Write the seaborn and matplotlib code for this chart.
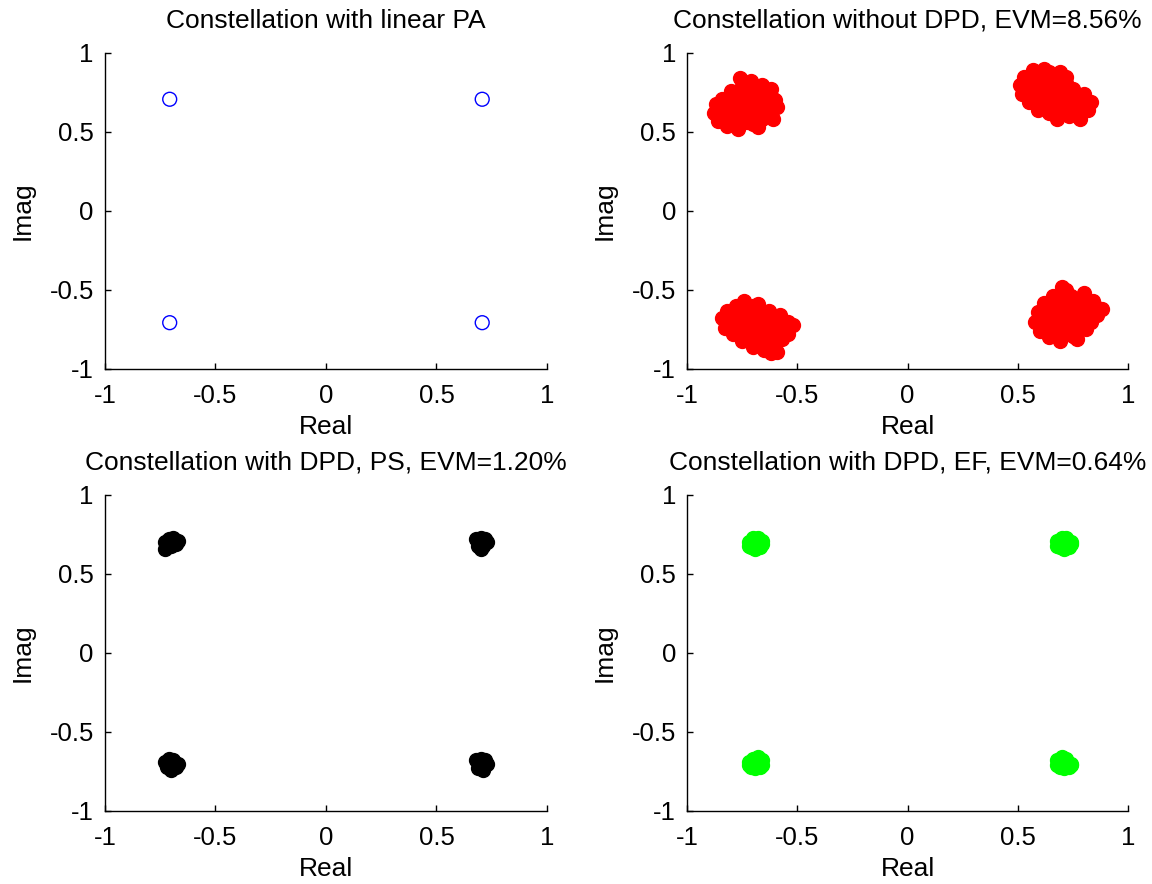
import numpy as np
import pandas as pd
import matplotlib
matplotlib.use('Agg')
import matplotlib.pyplot as plt
import seaborn as sns

# ideal constellation (linear PA)
lin_x = [-0.707, 0.707, -0.707, 0.707]
lin_y = [0.707, 0.707, -0.707, -0.707]

# PA output without DPD, four noisy clusters
red_tl_x = [-0.88, -0.87, -0.86, -0.84, -0.83, -0.82, -0.81, -0.80, -0.79, -0.78, -0.77, -0.76, -0.75, -0.74, -0.73, -0.72,
            -0.71, -0.70, -0.69, -0.68, -0.67, -0.66, -0.65, -0.64, -0.63, -0.62, -0.61, -0.60, -0.59, -0.76, -0.70, -0.66,
            -0.85, -0.82, -0.79, -0.76, -0.73, -0.70, -0.67, -0.64, -0.61, -0.83, -0.80, -0.77, -0.74, -0.71, -0.68, -0.65,
            -0.62, -0.78, -0.72, -0.66]
red_tl_y = [0.62, 0.68, 0.57, 0.71, 0.62, 0.54, 0.66, 0.76, 0.58, 0.70, 0.52, 0.63, 0.79, 0.73, 0.56, 0.67,
            0.82, 0.61, 0.74, 0.53, 0.68, 0.80, 0.60, 0.71, 0.65, 0.77, 0.58, 0.70, 0.66, 0.84, 0.55, 0.74,
            0.65, 0.60, 0.63, 0.67, 0.61, 0.66, 0.72, 0.63, 0.68, 0.56, 0.69, 0.74, 0.60, 0.76, 0.57, 0.75,
            0.73, 0.55, 0.79, 0.58]
red_tr_x = [0.51, 0.52, 0.53, 0.55, 0.56, 0.57, 0.58, 0.59, 0.60, 0.61, 0.62, 0.63, 0.64, 0.65, 0.66, 0.67, 0.68,
            0.69, 0.70, 0.71, 0.72, 0.73, 0.74, 0.75, 0.76, 0.77, 0.78, 0.79, 0.80, 0.82, 0.83, 0.60, 0.66, 0.72,
            0.53, 0.56, 0.59, 0.62, 0.65, 0.68, 0.71, 0.74, 0.77, 0.80, 0.55, 0.58, 0.61, 0.64, 0.67, 0.70, 0.73,
            0.76, 0.63, 0.69]
red_tr_y = [0.80, 0.74, 0.85, 0.69, 0.78, 0.89, 0.73, 0.64, 0.82, 0.70, 0.90, 0.76, 0.62, 0.84, 0.71, 0.78, 0.58,
            0.88, 0.67, 0.74, 0.81, 0.60, 0.70, 0.77, 0.64, 0.72, 0.58, 0.68, 0.74, 0.64, 0.69, 0.76, 0.66, 0.85,
            0.77, 0.82, 0.77, 0.79, 0.74, 0.83, 0.70, 0.66, 0.68, 0.70, 0.73, 0.86, 0.66, 0.88, 0.62, 0.76, 0.77,
            0.73, 0.71, 0.63]
red_bl_x = [-0.84, -0.83, -0.82, -0.80, -0.79, -0.78, -0.77, -0.76, -0.75, -0.74, -0.73, -0.72, -0.71, -0.70, -0.69, -0.68,
            -0.67, -0.66, -0.65, -0.64, -0.63, -0.62, -0.61, -0.60, -0.59, -0.58, -0.57, -0.56, -0.54, -0.52, -0.74, -0.68, -0.62,
            -0.81, -0.78, -0.75, -0.72, -0.69, -0.66, -0.63, -0.60, -0.57, -0.54, -0.80, -0.77, -0.74, -0.71, -0.68, -0.65,
            -0.62, -0.59, -0.70, -0.64]
red_bl_y = [-0.68, -0.74, -0.63, -0.70, -0.78, -0.60, -0.66, -0.74, -0.82, -0.57, -0.70, -0.78, -0.64, -0.86, -0.72, -0.59,
            -0.80, -0.68, -0.88, -0.75, -0.63, -0.83, -0.70, -0.77, -0.89, -0.66, -0.81, -0.74, -0.78, -0.72, -0.62, -0.64, -0.90,
            -0.66, -0.71, -0.69, -0.66, -0.79, -0.73, -0.79, -0.71, -0.74, -0.70, -0.74, -0.62, -0.77, -0.73, -0.84, -0.65,
            -0.75, -0.82, -0.60, -0.86]
red_br_x = [0.58, 0.59, 0.60, 0.62, 0.63, 0.64, 0.65, 0.66, 0.67, 0.68, 0.69, 0.70, 0.71, 0.72, 0.73, 0.74,
            0.75, 0.76, 0.77, 0.78, 0.79, 0.80, 0.81, 0.82, 0.83, 0.84, 0.86, 0.88, 0.70, 0.76, 0.66,
            0.61, 0.64, 0.67, 0.70, 0.73, 0.76, 0.79, 0.82, 0.85, 0.63, 0.66, 0.69, 0.72, 0.75, 0.78, 0.81,
            0.68, 0.74, 0.80, 0.71]
red_br_y = [-0.70, -0.64, -0.76, -0.58, -0.70, -0.80, -0.64, -0.54, -0.74, -0.66, -0.82, -0.58, -0.70, -0.50, -0.77, -0.63,
            -0.55, -0.71, -0.81, -0.60, -0.68, -0.52, -0.75, -0.62, -0.70, -0.57, -0.66, -0.62, -0.48, -0.80, -0.60,
            -0.66, -0.72, -0.60, -0.66, -0.70, -0.64, -0.74, -0.66, -0.60, -0.76, -0.68, -0.55, -0.62, -0.79, -0.66, -0.57,
            -0.78, -0.54, -0.70, -0.76]

# with DPD, PS
blk_x = [-0.73, -0.71, -0.69, -0.67, -0.68, -0.70, -0.72, -0.73,
         0.68, 0.70, 0.72, 0.73, 0.71, 0.69, 0.70,
         -0.73, -0.71, -0.69, -0.67, -0.68, -0.70, -0.72,
         0.68, 0.70, 0.72, 0.73, 0.71, 0.69, 0.71]
blk_y = [0.70, 0.72, 0.73, 0.71, 0.69, 0.68, 0.68, 0.66,
         0.72, 0.73, 0.72, 0.70, 0.68, 0.68, 0.66,
         -0.69, -0.67, -0.68, -0.70, -0.72, -0.74, -0.72,
         -0.68, -0.67, -0.68, -0.70, -0.72, -0.73, -0.74]

# with DPD, EF
grn_x = [-0.72, -0.70, -0.68, -0.66, -0.71, -0.69, -0.67, -0.70, -0.68, -0.72, -0.66,
         0.68, 0.70, 0.72, 0.74, 0.69, 0.71, 0.73, 0.70, 0.72, 0.68, 0.74,
         -0.72, -0.70, -0.68, -0.66, -0.71, -0.69, -0.67, -0.70, -0.68, -0.72, -0.66,
         0.68, 0.70, 0.72, 0.74, 0.69, 0.71, 0.73, 0.70, 0.72, 0.68, 0.74]
grn_y = [0.70, 0.73, 0.73, 0.71, 0.67, 0.66, 0.67, 0.70, 0.70, 0.68, 0.69,
         0.71, 0.73, 0.73, 0.70, 0.67, 0.66, 0.67, 0.70, 0.70, 0.68, 0.69,
         -0.69, -0.67, -0.66, -0.68, -0.72, -0.73, -0.72, -0.70, -0.70, -0.71, -0.71,
         -0.68, -0.66, -0.67, -0.70, -0.72, -0.73, -0.72, -0.70, -0.70, -0.71, -0.71]

titles = ['Constellation with linear PA',
          'Constellation without DPD, EVM=8.56%',
          'Constellation with DPD, PS, EVM=1.20%',
          'Constellation with DPD, EF, EVM=0.64%']

sns.set_style('ticks')
plt.rcParams['font.family'] = ['Liberation Sans', 'DejaVu Sans']
plt.rcParams['xtick.direction'] = 'in'
plt.rcParams['ytick.direction'] = 'in'
plt.rcParams['text.color'] = 'black'
plt.rcParams['axes.labelcolor'] = 'black'
plt.rcParams['xtick.labelcolor'] = 'black'
plt.rcParams['ytick.labelcolor'] = 'black'

fig = plt.figure(figsize=(11.52, 8.84), dpi=100)
boxes = [[0.0911, 0.5826, 0.3837, 0.3575],
         [0.5964, 0.5826, 0.3828, 0.3575],
         [0.0911, 0.0826, 0.3837, 0.3575],
         [0.5964, 0.0826, 0.3828, 0.3575]]
axes = [fig.add_axes(b) for b in boxes]

df_lin = pd.DataFrame({'Real': lin_x, 'Imag': lin_y})
df_red = pd.DataFrame({'Real': red_tl_x + red_tr_x + red_bl_x + red_br_x,
                       'Imag': red_tl_y + red_tr_y + red_bl_y + red_br_y})
df_blk = pd.DataFrame({'Real': blk_x, 'Imag': blk_y})
df_grn = pd.DataFrame({'Real': grn_x, 'Imag': grn_y})

sns.scatterplot(data=df_lin, x='Real', y='Imag', ax=axes[0], marker='o', s=100,
                facecolors='none', edgecolor='blue', linewidth=1)
sns.scatterplot(data=df_red, x='Real', y='Imag', ax=axes[1], marker='o', s=100,
                color='red', edgecolor='red', linewidth=1)
sns.scatterplot(data=df_blk, x='Real', y='Imag', ax=axes[2], marker='o', s=100,
                color='black', edgecolor='black', linewidth=1)
sns.scatterplot(data=df_grn, x='Real', y='Imag', ax=axes[3], marker='o', s=100,
                color='#00ff00', edgecolor='#00ff00', linewidth=1)

ticks = [-1, -0.5, 0, 0.5, 1]
for ax, t in zip(axes, titles):
    ax.set_xlim(-1, 1)
    ax.set_ylim(-1, 1)
    ax.set_xticks(ticks)
    ax.set_yticks(ticks)
    ax.set_xticklabels(['-1', '-0.5', '0', '0.5', '1'])
    ax.set_yticklabels(['-1', '-0.5', '0', '0.5', '1'])
    ax.tick_params(labelsize=18.5, length=4, width=1, color='black')
    ax.tick_params(axis='x', pad=11)
    ax.tick_params(axis='y', pad=8)
    ax.set_xlabel('Real', fontsize=19, labelpad=5)
    ax.set_ylabel('Imag', fontsize=19, labelpad=11)
    ax.set_title(t, fontsize=19, pad=18)
    sns.despine(ax=ax)
    for sp in ['left', 'bottom']:
        ax.spines[sp].set_linewidth(1)
        ax.spines[sp].set_color('black')

fig.savefig('out.png', dpi=100)
